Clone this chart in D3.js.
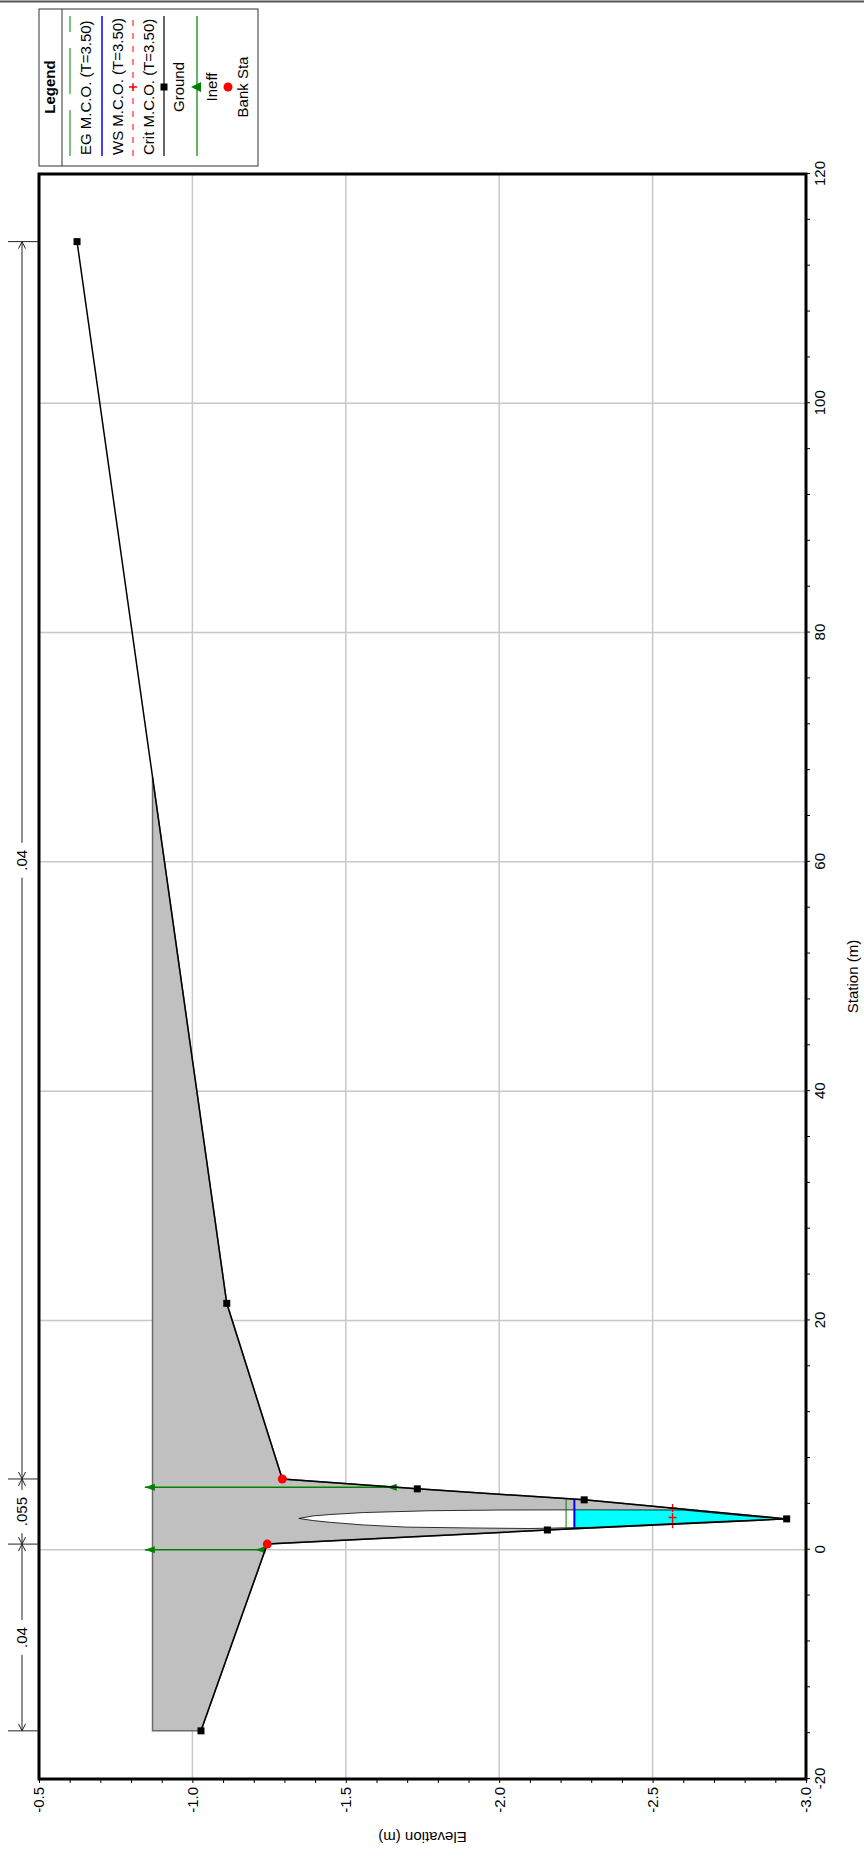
<!DOCTYPE html>
<html>
<head>
<meta charset="utf-8">
<script src="https://cdn.jsdelivr.net/npm/d3@7"></script>
<style>
  body { margin: 0; background: #fff; }
  svg { display: block; font-family: "Liberation Sans", Arial, sans-serif; }
</style>
</head>
<body>
<div id="chart"></div>
<script>
// ground survey points (station m, elevation m)
var groundSta  = [-15.8, 0.49, 1.72, 2.69, 4.35, 5.31, 6.17, 21.49, 114.1];
var groundElev = [-1.028, -1.244, -2.157, -2.937, -2.277, -1.733, -1.293, -1.112, -0.624];
var bankSta  = [0.49, 6.17];
var bankElev = [-1.244, -1.293];

// road embankment (top of deck) and the opening under it
var deckSta  = [-15.8, 67.4];
var deckElev = -0.87;
var openSta  = [2.73, 2.95, 3.07, 3.24, 3.40, 3.46, 3.48, 3.46, 3.2, 2.95, 2.74, 2.69, 2.45, 2.2, 1.95, 1.85, 1.90, 1.97, 2.16, 2.39, 2.54];
var openElev = [-1.347, -1.394, -1.449, -1.557, -1.774, -2.0, -2.3, -2.6, -2.7, -2.8, -2.9, -2.937, -2.7, -2.5, -2.3, -2.1, -1.9, -1.7, -1.557, -1.449, -1.394];

// ineffective flow areas
var ineffSta  = [0, 5.44];
var ineffTop  = [-0.845, -0.845];
var ineffBase = [-1.238, -1.666];

// profiles M.C.O. (T=3.50)
var egElev = -2.218, egSta = [1.80, 4.45];
var wsElev = -2.245, wsSta = [1.83, 4.41];
var critElev = -2.565, critSta = [2.23, 2.81, 3.63];

// manning n
var nBreaks = [-15.8, 0.49, 6.17, 114.1];
var nLabels = [".04", ".055", ".04"];

// axes
var staTicks  = [-20, 0, 20, 40, 60, 80, 100, 120];
var elevTicks = [-0.5, -1.0, -1.5, -2.0, -2.5, -3.0];
var legendLabels = ["EG M.C.O. (T=3.50)", "WS M.C.O. (T=3.50)", "Crit M.C.O. (T=3.50)", "Ground", "Ineff", "Bank Sta"];

(function chart(){
  var W = 864, H = 1865, fs = "15px";
  var svg = d3.select("#chart").append("svg")
      .attr("width", W)
      .attr("height", H);

  svg.append("rect").attr("width", W).attr("height", H).attr("fill", "#fff");
  svg.append("line")
      .attr("x1", 0).attr("x2", W).attr("y1", 1.5).attr("y2", 1.5)
      .attr("stroke", "#555").attr("stroke-width", 2);

  // the plot is laid out landscape and turned a quarter turn
  var g = svg.append("g").attr("transform", "translate(0," + H + ") rotate(-90)");
  var m = {left: 86, right: 1691, top: 39, bottom: 806};

  var x = d3.scaleLinear().domain([-20, 120]).range([m.left, m.right]);
  var y = d3.scaleLinear().domain([-0.5, -3.0]).range([m.top, m.bottom]);

  var pathLine = d3.line().x(function(d) { return x(d[0]); }).y(function(d) { return y(d[1]); });
  var pathClosed = d3.line().x(function(d) { return x(d[0]); }).y(function(d) { return y(d[1]); })
      .curve(d3.curveLinearClosed);

  // grid
  g.selectAll(".gx")
      .data(staTicks.slice(1, -1))
    .enter().append("line")
      .attr("x1", function(d) { return x(d); }).attr("x2", function(d) { return x(d); })
      .attr("y1", m.top).attr("y2", m.bottom)
      .attr("stroke", "#c8c8c8").attr("stroke-width", 1.5);
  g.selectAll(".gy")
      .data(elevTicks.slice(1, -1))
    .enter().append("line")
      .attr("x1", m.left).attr("x2", m.right)
      .attr("y1", function(d) { return y(d); }).attr("y2", function(d) { return y(d); })
      .attr("stroke", "#c8c8c8").attr("stroke-width", 1.5);

  // embankment
  var deckPts = [[deckSta[0], deckElev], [deckSta[1], deckElev]];
  for (var i = groundSta.length - 1; i >= 0; i--) {
    if (groundSta[i] < deckSta[1]) deckPts.push([groundSta[i], groundElev[i]]);
  }
  g.append("path")
      .attr("d", pathClosed(deckPts))
      .attr("fill", "#c0c0c0")
      .attr("stroke", "#6a6a6a")
      .attr("stroke-width", 1.5);

  // opening + water
  var openPts = openSta.map(function(s, i) { return [s, openElev[i]]; });
  svg.append("defs").append("clipPath").attr("id", "opening")
    .append("path").attr("d", pathClosed(openPts));
  g.append("path").attr("d", pathClosed(openPts)).attr("fill", "#fff");
  g.append("rect")
      .attr("x", x(1)).attr("width", x(5) - x(1))
      .attr("y", y(wsElev)).attr("height", y(-3.0) - y(wsElev))
      .attr("fill", "#00ffff")
      .attr("clip-path", "url(#opening)");
  g.append("path").attr("d", pathClosed(openPts))
      .attr("fill", "none").attr("stroke", "#000").attr("stroke-width", 0.8);

  // profiles
  g.append("path")
      .attr("d", pathLine([[egSta[0], egElev], [egSta[1], egElev]]))
      .attr("stroke", "#008000").attr("stroke-width", 1);
  g.append("path")
      .attr("d", pathLine([[wsSta[0], wsElev], [wsSta[1], wsElev]]))
      .attr("stroke", "#0000ff").attr("stroke-width", 2);
  g.append("path")
      .attr("d", pathLine(critSta.map(function(s) { return [s, critElev]; })))
      .attr("stroke", "#ff0000").attr("stroke-width", 1).attr("stroke-dasharray", "4,3").attr("fill", "none");
  g.selectAll(".crit")
      .data(critSta)
    .enter().append("path")
      .attr("d", function(d) {
        var cx = x(d), cy = y(critElev);
        return "M" + (cx - 4) + "," + cy + "H" + (cx + 4) + "M" + cx + "," + (cy - 4) + "V" + (cy + 4);
      })
      .attr("stroke", "#ff0000").attr("stroke-width", 1.3);

  // ineffective areas
  ineffSta.forEach(function(s, i) {
    var cx = x(s), t = y(ineffTop[i]), b = y(ineffBase[i]);
    g.append("line").attr("x1", cx).attr("x2", cx).attr("y1", t).attr("y2", b)
        .attr("stroke", "#008000").attr("stroke-width", 1.5);
    g.append("path")
        .attr("d", "M" + cx + "," + t + "L" + (cx - 3.5) + "," + (t + 10) + "L" + (cx + 3.5) + "," + (t + 10) + "Z")
        .attr("fill", "#008000");
    g.append("path")
        .attr("d", "M" + cx + "," + (b - 10) + "L" + (cx - 3.5) + "," + b + "L" + (cx + 3.5) + "," + b + "Z")
        .attr("fill", "#008000");
  });

  // ground
  var groundPts = groundSta.map(function(s, i) { return [s, groundElev[i]]; });
  g.append("path")
      .attr("d", pathLine(groundPts))
      .attr("fill", "none").attr("stroke", "#000").attr("stroke-width", 1.5);
  g.selectAll(".gp")
      .data(groundPts.filter(function(d) { return bankSta.indexOf(d[0]) < 0; }))
    .enter().append("rect")
      .attr("x", function(d) { return x(d[0]) - 3.5; })
      .attr("y", function(d) { return y(d[1]) - 3.5; })
      .attr("width", 7).attr("height", 7)
      .attr("fill", "#000");
  g.selectAll(".bank")
      .data(bankSta)
    .enter().append("circle")
      .attr("cx", function(d) { return x(d); })
      .attr("cy", function(d, i) { return y(bankElev[i]); })
      .attr("r", 4.5)
      .attr("fill", "#ff0000");

  // frame
  g.append("rect")
      .attr("x", m.left).attr("y", m.top)
      .attr("width", m.right - m.left).attr("height", m.bottom - m.top)
      .attr("fill", "none").attr("stroke", "#000").attr("stroke-width", 3);

  // axes
  var xAxis = d3.axisBottom(x)
      .tickValues(d3.range(-20, 121, 4))
      .tickSize(4).tickPadding(4)
      .tickFormat(function(d) { return staTicks.indexOf(d) >= 0 ? d : ""; });
  var yAxis = d3.axisLeft(y)
      .tickValues(d3.range(0, 26).map(function(k) { return +(-0.5 - k * 0.1).toFixed(1); }))
      .tickSize(4).tickPadding(4)
      .tickFormat(function(d) { return elevTicks.indexOf(d) >= 0 ? d.toFixed(1) : ""; });

  var ax = g.append("g").attr("transform", "translate(0," + m.bottom + ")").call(xAxis);
  var ay = g.append("g").attr("transform", "translate(" + m.left + ",0)").call(yAxis);
  [ax, ay].forEach(function(a) {
    a.select(".domain").remove();
    a.selectAll("line").attr("stroke", "#000");
    a.selectAll("text").attr("fill", "#000").style("font-size", fs)
        .style("font-family", "Liberation Sans, Arial, sans-serif");
  });

  g.append("text")
      .attr("x", (m.left + m.right) / 2).attr("y", 858)
      .attr("text-anchor", "middle")
      .style("font-size", fs)
      .text("Station (m)");
  g.append("text")
      .attr("transform", "translate(33," + ((m.top + m.bottom) / 2) + ") rotate(-90)")
      .attr("text-anchor", "middle")
      .style("font-size", fs)
      .text("Elevation (m)");

  // manning n bands above the plot
  var nv = 22;
  g.selectAll(".ntick")
      .data(nBreaks)
    .enter().append("line")
      .attr("x1", function(d) { return x(d); }).attr("x2", function(d) { return x(d); })
      .attr("y1", 8).attr("y2", m.top)
      .attr("stroke", "#222").attr("stroke-width", 1);
  nLabels.forEach(function(lab, k) {
    var a = x(nBreaks[k]), b = x(nBreaks[k + 1]), c = (a + b) / 2;
    var t = g.append("text")
        .attr("x", c).attr("y", nv + 5)
        .attr("text-anchor", "middle")
        .style("font-size", fs)
        .text(lab);
    var half = t.node().getComputedTextLength() / 2 + 7;
    g.append("path")
        .attr("d", "M" + a + "," + nv + "H" + (c - half) + "M" + (c + half) + "," + nv + "H" + b)
        .attr("stroke", "#222").attr("stroke-width", 1);
    g.append("path")
        .attr("d", "M" + (a + 7) + "," + (nv - 3.5) + "L" + a + "," + nv + "L" + (a + 7) + "," + (nv + 3.5) +
                   "M" + (b - 7) + "," + (nv - 3.5) + "L" + b + "," + nv + "L" + (b - 7) + "," + (nv + 3.5))
        .attr("fill", "none").attr("stroke", "#222").attr("stroke-width", 1);
  });

  // legend
  var lg = g.append("g");
  var lx0 = 1699, lx1 = 1856, ly0 = 39, ly1 = 258, lmid = 1778;
  lg.append("rect")
      .attr("x", lx0).attr("y", ly0).attr("width", lx1 - lx0).attr("height", ly1 - ly0)
      .attr("fill", "#fff").attr("stroke", "#333").attr("stroke-width", 1);
  lg.append("line").attr("x1", lx0).attr("x2", lx1).attr("y1", 62).attr("y2", 62)
      .attr("stroke", "#333").attr("stroke-width", 1);
  lg.append("text")
      .attr("x", lmid).attr("y", 55)
      .attr("text-anchor", "middle")
      .style("font-size", fs).style("font-weight", "bold")
      .text("Legend");

  var rowLine = [70, 102, 133, 164, 197, 228];
  var rowText = [91, 123, 154, 184, 217, 248];
  var rowStyle = [
    {stroke: "#008000", width: 1, dash: "46,16"},
    {stroke: "#0000ff", width: 1.5, dash: null},
    {stroke: "#ff0000", width: 1, dash: "6,7"},
    {stroke: "#000", width: 1.2, dash: null},
    {stroke: "#008000", width: 1.2, dash: null},
    null
  ];
  legendLabels.forEach(function(lab, k) {
    var st = rowStyle[k];
    if (st) {
      lg.append("line")
          .attr("x1", 1709).attr("x2", 1849).attr("y1", rowLine[k]).attr("y2", rowLine[k])
          .attr("stroke", st.stroke).attr("stroke-width", st.width)
          .attr("stroke-dasharray", st.dash);
    }
    var centred = k >= 3;
    lg.append("text")
        .attr("x", centred ? lmid : 1710).attr("y", rowText[k])
        .attr("text-anchor", centred ? "middle" : "start")
        .style("font-size", fs)
        .text(lab);
  });
  var cy = rowLine[2];
  lg.append("path")
      .attr("d", "M" + (lmid - 4) + "," + cy + "H" + (lmid + 4) + "M" + lmid + "," + (cy - 4) + "V" + (cy + 4))
      .attr("stroke", "#ff0000").attr("stroke-width", 1.3);
  lg.append("rect").attr("x", lmid - 3.5).attr("y", rowLine[3] - 3.5).attr("width", 7).attr("height", 7).attr("fill", "#000");
  lg.append("path")
      .attr("d", "M" + lmid + "," + (rowLine[4] - 6) + "L" + (lmid - 5) + "," + (rowLine[4] + 4) + "L" + (lmid + 5) + "," + (rowLine[4] + 4) + "Z")
      .attr("fill", "#008000");
  lg.append("circle").attr("cx", lmid).attr("cy", rowLine[5]).attr("r", 4.5).attr("fill", "#ff0000");
}());
</script>
</body>
</html>
